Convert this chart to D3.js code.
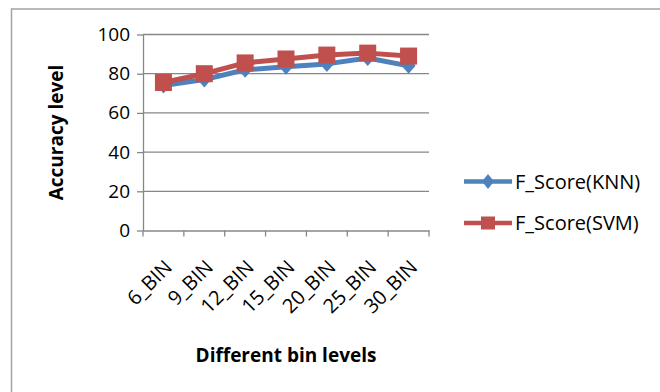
<!DOCTYPE html>
<html><head><meta charset="utf-8">
<script src="https://cdn.jsdelivr.net/npm/d3@7"></script>
<style>
html,body{margin:0;padding:0;background:#fff;}
svg{display:block;font-family:"Open Sans","Liberation Sans",sans-serif;}
</style></head>
<body>
<svg id="chart" width="660" height="392"></svg>
<script>
const categories = ["6_BIN","9_BIN","12_BIN","15_BIN","20_BIN","25_BIN","30_BIN"];
const knnValues = [74, 77, 82, 83.5, 85, 88, 84];
const svmValues = [75.5, 80, 85.5, 87.5, 89.5, 90.5, 89];
const yTicks = [0, 20, 40, 60, 80, 100];
const seriesNames = ["F_Score(KNN)", "F_Score(SVM)"];

const svg = d3.select("#chart");
const W = 660, H = 392;
const m = {left:143, right:429, top:34.5, bottom:230.5};
const FONT = "'Open Sans','Liberation Sans',sans-serif";

// outer frame
svg.append("rect").attr("x",11.5).attr("y",9).attr("width",W+20).attr("height",H+20)
  .attr("fill","none").attr("stroke","#a3a3a3").attr("stroke-width",1.5);

const x = d3.scaleBand().domain(categories).range([m.left, m.right]).paddingInner(0).paddingOuter(0);
const y = d3.scaleLinear().domain([0,100]).range([m.bottom, m.top]);

const gridColor = "#878787";
// gridlines
svg.append("g").selectAll("line").data(yTicks.filter(d=>d>0)).join("line")
  .attr("x1",m.left).attr("x2",m.right).attr("y1",d=>y(d)).attr("y2",d=>y(d))
  .attr("stroke",gridColor).attr("stroke-width",1.3);
// y axis
const yAxis = svg.append("g").attr("transform",`translate(${m.left},0)`)
  .call(d3.axisLeft(y).tickValues(yTicks).tickSize(6).tickPadding(7).tickSizeOuter(0));
yAxis.attr("font-family",FONT).attr("font-size",19);
yAxis.select(".domain").attr("stroke",gridColor).attr("stroke-width",1.3);
yAxis.selectAll(".tick line").attr("stroke",gridColor).attr("stroke-width",1.3);
yAxis.selectAll(".tick text").attr("fill","#000");

// x axis
const xAxis = svg.append("g").attr("transform",`translate(0,${m.bottom})`)
  .call(d3.axisBottom(x).tickSize(0).tickSizeOuter(0));
xAxis.attr("font-family",FONT).attr("font-size",20);
xAxis.select(".domain").attr("stroke",gridColor).attr("stroke-width",1.3);
xAxis.selectAll(".tick line").remove();
const bounds = categories.map(c=>x(c)).concat([m.right]);
svg.append("g").selectAll("line").data(bounds).join("line")
  .attr("x1",d=>d).attr("x2",d=>d).attr("y1",m.bottom).attr("y2",m.bottom+6)
  .attr("stroke",gridColor).attr("stroke-width",1.3);
xAxis.selectAll(".tick text")
  .attr("fill","#000")
  .attr("text-anchor","end")
  .attr("x",0).attr("y",0).attr("dy",null)
  .attr("transform","translate(10,38) rotate(-45)");

const cx = d => x(d) + x.bandwidth()/2;
const line = d3.line().x((d,i)=>cx(categories[i])).y(d=>y(d));

const blue = "#4F81BD", red = "#C0504D";
const diamondPath = (hw,hh) => `M0,${-hh}L${hw},0L0,${hh}L${-hw},0Z`;

svg.append("path").datum(knnValues).attr("d",line).attr("fill","none")
  .attr("stroke",blue).attr("stroke-width",5).attr("stroke-linejoin","round");
svg.append("g").selectAll("path").data(knnValues).join("path")
  .attr("d",diamondPath(7,8)).attr("fill",blue)
  .attr("transform",(d,i)=>`translate(${cx(categories[i])},${y(d)})`);

svg.append("path").datum(svmValues).attr("d",line).attr("fill","none")
  .attr("stroke",red).attr("stroke-width",5).attr("stroke-linejoin","round");
const sq = 17;
svg.append("g").selectAll("rect").data(svmValues).join("rect")
  .attr("x",(d,i)=>cx(categories[i])-sq/2).attr("y",d=>y(d)-sq/2)
  .attr("width",sq).attr("height",sq).attr("fill",red);

// axis titles
svg.append("text").attr("transform",`translate(63,${(m.top+m.bottom)/2}) rotate(-90)`)
  .attr("text-anchor","middle").attr("font-size",19).attr("font-weight","bold")
  .text("Accuracy level");
svg.append("text").attr("x",(m.left+m.right)/2).attr("y",362)
  .attr("text-anchor","middle").attr("font-size",19).attr("font-weight","bold")
  .text("Different bin levels");

// legend
const legY = [181.5, 223];
const colors = [blue, red];
seriesNames.forEach((name,i)=>{
  const g = svg.append("g").attr("transform",`translate(0,${legY[i]})`);
  g.append("line").attr("x1",464).attr("x2",512).attr("y1",0).attr("y2",0)
    .attr("stroke",colors[i]).attr("stroke-width",4.5);
  if(i===0){
    g.append("path").attr("d",diamondPath(6,7.5)).attr("fill",blue).attr("transform","translate(488,0)");
  } else {
    g.append("rect").attr("x",488-7).attr("y",-6.5).attr("width",14).attr("height",13).attr("fill",red);
  }
  g.append("text").attr("x",515).attr("y",0).attr("dy","0.36em").attr("font-size",20).text(name);
});
</script>
</body></html>
